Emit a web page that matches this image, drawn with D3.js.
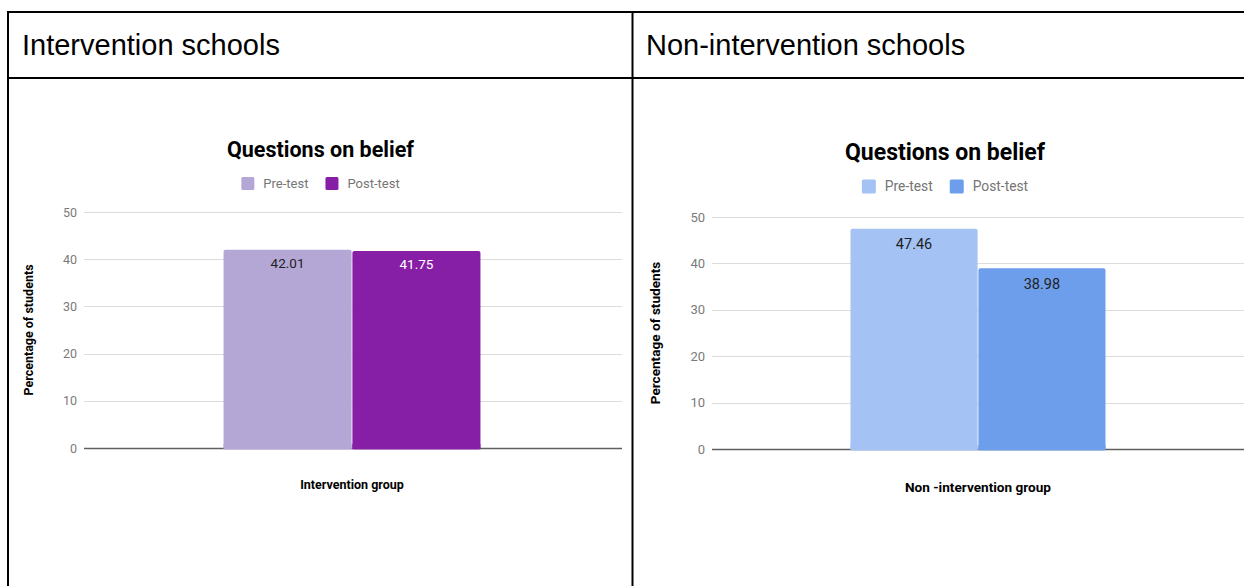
<!DOCTYPE html>
<html>
<head>
<meta charset="utf-8">
<script src="https://cdn.jsdelivr.net/npm/d3@7/dist/d3.min.js"></script>
<style>
  html, body { margin: 0; padding: 0; background: #fff; }
  svg { display: block; }
</style>
</head>
<body>
<svg id="page" width="1244" height="586"></svg>
<script>
// ---- data ----
const panelTitles = ["Intervention schools", "Non-intervention schools"];
const chartTitle = "Questions on belief";
const seriesNames = ["Pre-test", "Post-test"];
const groupNames = ["Intervention group", "Non -intervention group"];
const yAxisTitle = "Percentage of students";
const interventionValues = [42.01, 41.75];
const nonInterventionValues = [47.46, 38.98];
const yTicks = [0, 10, 20, 30, 40, 50];
const interventionColors = ["#b4a7d6", "#871fa6"];
const nonInterventionColors = ["#a4c2f4", "#6d9eeb"];

// ---- layout of the two panels ----
const panels = [
  {
    group: groupNames[0], values: interventionValues, colors: interventionColors,
    plot: { x0: 84, x1: 620, gridEnd: 622, yTop: 212, yBottom: 448 },
    titleX: 320.5, titleY: 157, titleSize: 21.5,
    legendY: 183.5, legendSize: 13, swatch: 13,
    tickSize: 12.5, valueSize: 13.5, valueOffset: 18.5,
    axisTitleSize: 12.5, yTitleX: 28.5, xTitleY: 489
  },
  {
    group: groupNames[1], values: nonInterventionValues, colors: nonInterventionColors,
    plot: { x0: 712, x1: 1244, gridEnd: 1244, yTop: 217, yBottom: 449 },
    titleX: 945, titleY: 159.5, titleSize: 23,
    legendY: 186.5, legendSize: 13.8, swatch: 14,
    tickSize: 13, valueSize: 14.5, valueOffset: 20.5,
    axisTitleSize: 13.6, yTitleX: 655, xTitleY: 492
  }
];

const svg = d3.select("#page");
const FONT = "Roboto, 'Noto Sans', sans-serif";

// ---- table frame with the header row ----
const frame = svg.append("g").attr("stroke", "#000").attr("stroke-width", 2);
frame.append("line").attr("x1", 7).attr("x2", 1244).attr("y1", 12).attr("y2", 12);
frame.append("line").attr("x1", 7).attr("x2", 1244).attr("y1", 78).attr("y2", 78);
frame.append("line").attr("x1", 8).attr("x2", 8).attr("y1", 11).attr("y2", 586);
frame.append("line").attr("x1", 632.5).attr("x2", 632.5).attr("y1", 11).attr("y2", 586);

svg.selectAll("text.header")
  .data(panelTitles)
  .join("text")
  .attr("class", "header")
  .attr("x", (d, i) => i === 0 ? 22 : 646)
  .attr("y", 55)
  .attr("font-family", "'Liberation Sans', Arial, sans-serif")
  .attr("font-size", 29)
  .attr("fill", "#000")
  .text(d => d);

// label colour that stays readable on a given bar colour
function labelColor(fill) {
  const c = d3.rgb(fill);
  const lum = (0.299 * c.r + 0.587 * c.g + 0.114 * c.b) / 255;
  return lum < 0.5 ? "#ffffff" : "#222222";
}

panels.forEach(p => {
  const g = svg.append("g");
  const { x0, x1, gridEnd, yTop, yBottom } = p.plot;

  const y = d3.scaleLinear().domain([0, 50]).range([yBottom, yTop]);
  const xGroup = d3.scaleBand().domain([p.group]).range([x0, x1])
    .paddingInner(0.352).paddingOuter(0.352);
  const xSeries = d3.scaleBand().domain(seriesNames)
    .range([0, xGroup.bandwidth()]).paddingInner(0.006);

  // title
  g.append("text")
    .attr("x", p.titleX).attr("y", p.titleY)
    .attr("text-anchor", "middle")
    .attr("font-family", FONT).attr("font-weight", 700)
    .attr("font-size", p.titleSize).attr("fill", "#000")
    .text(chartTitle);

  // legend, centred under the title
  const legend = g.append("g");
  const items = legend.selectAll("g").data(seriesNames).join("g");
  items.append("rect")
    .attr("width", p.swatch).attr("height", p.swatch)
    .attr("rx", 1.5)
    .attr("y", p.legendY - p.swatch / 2)
    .attr("fill", (d, i) => p.colors[i]);
  items.append("text")
    .attr("x", p.swatch + 9)
    .attr("y", p.legendY)
    .attr("dy", "0.35em")
    .attr("font-family", FONT).attr("font-size", p.legendSize)
    .attr("fill", "#757575")
    .text(d => d);
  let cursor = 0;
  items.each(function () {
    const w = p.swatch + 9 + d3.select(this).select("text").node().getComputedTextLength();
    d3.select(this).attr("transform", `translate(${cursor},0)`);
    cursor += w + 17;
  });
  const legendWidth = cursor - 17;
  legend.attr("transform", `translate(${p.titleX - legendWidth / 2},0)`);

  // gridlines
  g.append("g").selectAll("line")
    .data(yTicks.filter(t => t !== 0))
    .join("line")
    .attr("x1", x0).attr("x2", gridEnd)
    .attr("y1", d => Math.round(y(d)) + 0.5).attr("y2", d => Math.round(y(d)) + 0.5)
    .attr("stroke", "#dcdcdc").attr("stroke-width", 1);

  // y axis tick labels
  const yAxis = d3.axisLeft(y).tickValues(yTicks).tickSize(0).tickPadding(7);
  const ay = g.append("g").attr("transform", `translate(${x0},0)`).call(yAxis);
  ay.select(".domain").remove();
  ay.selectAll("text")
    .attr("font-family", FONT).attr("font-size", p.tickSize)
    .attr("fill", "#7a7a7a");

  // baseline (the bars sit on top of it)
  g.append("line")
    .attr("x1", x0).attr("x2", gridEnd)
    .attr("y1", y(0) + 0.5).attr("y2", y(0) + 0.5)
    .attr("stroke", "#5f5f5f").attr("stroke-width", 1.5);

  // bars
  const bars = g.append("g").attr("transform", `translate(${xGroup(p.group)},0)`);
  bars.selectAll("rect")
    .data(p.values)
    .join("rect")
    .attr("x", (d, i) => xSeries(seriesNames[i]))
    .attr("width", xSeries.bandwidth())
    .attr("y", d => y(d))
    .attr("height", d => y(0) - y(d) + 1.3)
    .attr("rx", 2)
    .attr("fill", (d, i) => p.colors[i]);
  // squared-off bottoms
  bars.selectAll("rect.foot")
    .data(p.values)
    .join("rect")
    .attr("class", "foot")
    .attr("x", (d, i) => xSeries(seriesNames[i]))
    .attr("width", xSeries.bandwidth())
    .attr("y", y(0) - 4)
    .attr("height", 5.3)
    .attr("fill", (d, i) => p.colors[i]);

  // value labels inside bar tops
  bars.selectAll("text")
    .data(p.values)
    .join("text")
    .attr("x", (d, i) => xSeries(seriesNames[i]) + xSeries.bandwidth() / 2)
    .attr("y", d => y(d) + p.valueOffset)
    .attr("text-anchor", "middle")
    .attr("font-family", FONT).attr("font-size", p.valueSize)
    .attr("fill", (d, i) => labelColor(p.colors[i]))
    .text(d => d.toFixed(2));

  // axis titles
  g.append("text")
    .attr("transform", `translate(${p.yTitleX},${(yTop + yBottom) / 2}) rotate(-90)`)
    .attr("text-anchor", "middle").attr("dy", "0.35em")
    .attr("font-family", FONT).attr("font-weight", 700)
    .attr("font-size", p.axisTitleSize).attr("fill", "#000")
    .text(yAxisTitle);

  g.append("text")
    .attr("x", xGroup(p.group) + xGroup.bandwidth() / 2)
    .attr("y", p.xTitleY)
    .attr("text-anchor", "middle")
    .attr("font-family", FONT).attr("font-weight", 700)
    .attr("font-size", p.axisTitleSize).attr("fill", "#000")
    .text(p.group);
});
</script>
</body>
</html>
